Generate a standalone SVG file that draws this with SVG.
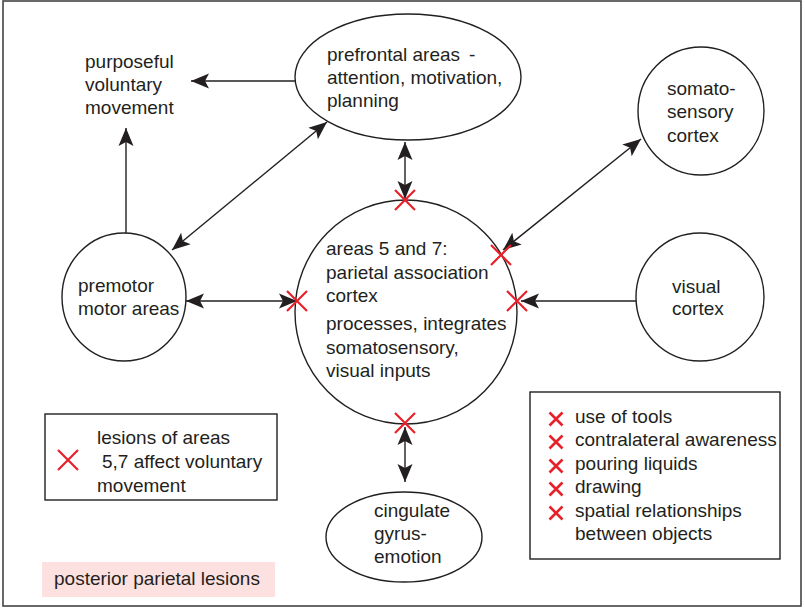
<svg xmlns="http://www.w3.org/2000/svg" width="805" height="608" viewBox="0 0 805 608">
<style>
text{font-family:"Liberation Sans",Arial,sans-serif;font-size:19px;fill:#231f20}
.node{fill:#fff;stroke:#231f20;stroke-width:1.4}
.box{fill:#fff;stroke:#231f20;stroke-width:1.4}
.conn line{stroke:#231f20;stroke-width:1.4;fill:none}
.x{stroke:#e8202a;stroke-width:2.2;fill:none}
.xs{stroke:#e8202a;stroke-width:2.6;fill:none}
</style>
<defs>
<marker id="ah" viewBox="-1 -9 21 18" markerUnits="userSpaceOnUse" markerWidth="21" markerHeight="18" refX="18" refY="0" orient="auto-start-reverse">
<path d="M0,-7.5 L18,0 L0,7.5 L4,0 z" fill="#231f20"/>
</marker>
<path id="xm" d="M-10,-10 L10,10 M-10,10 L10,-10"/>
<path id="xs" d="M-6.5,-6.5 L6.5,6.5 M-6.5,6.5 L6.5,-6.5"/>
</defs>
<rect x="3" y="1" width="798" height="605" fill="#fff" stroke="#444" stroke-width="1.6"/>

<g id="purposeful">
<text x="85" y="68">purposeful</text>
<text x="85" y="91">voluntary</text>
<text x="85" y="114">movement</text>
</g>
<g id="prefrontal">
<ellipse class="node" cx="408" cy="77" rx="113" ry="63"/>
<text x="327" y="61">prefrontal areas<tspan x="469">-</tspan></text>
<text x="327" y="84">attention, motivation,</text>
<text x="327" y="107">planning</text>
</g>
<g id="somatosensory">
<ellipse class="node" cx="701" cy="111" rx="63" ry="64"/>
<text x="667" y="95">somato-</text>
<text x="667" y="118">sensory</text>
<text x="667" y="142">cortex</text>
</g>
<g id="parietal">
<ellipse class="node" cx="406" cy="312" rx="111" ry="112"/>
<text x="326" y="255">areas 5 and 7:</text>
<text x="326" y="279">parietal association</text>
<text x="326" y="302">cortex</text>
<text x="326" y="330">processes, integrates</text>
<text x="326" y="354">somatosensory,</text>
<text x="326" y="377">visual inputs</text>
</g>
<g id="premotor">
<ellipse class="node" cx="124" cy="297" rx="62" ry="64"/>
<text x="78" y="292">premotor</text>
<text x="78" y="315">motor areas</text>
</g>
<g id="visual">
<ellipse class="node" cx="700" cy="297" rx="64" ry="64"/>
<text x="672" y="293">visual</text>
<text x="672" y="315">cortex</text>
</g>
<g id="cingulate">
<ellipse class="node" cx="404" cy="537" rx="78" ry="45"/>
<text x="374" y="517">cingulate</text>
<text x="374" y="540">gyrus-</text>
<text x="374" y="563">emotion</text>
</g>

<g id="connectors" class="conn">
<line x1="295" y1="81" x2="191" y2="81" marker-end="url(#ah)"/>
<line x1="126" y1="233" x2="126" y2="128" marker-end="url(#ah)"/>
<line x1="327" y1="122" x2="172" y2="250" marker-start="url(#ah)" marker-end="url(#ah)"/>
<line x1="405" y1="142" x2="405" y2="199" marker-start="url(#ah)" marker-end="url(#ah)"/>
<line x1="641" y1="139" x2="503" y2="250" marker-start="url(#ah)" marker-end="url(#ah)"/>
<line x1="186" y1="301" x2="297" y2="301" marker-start="url(#ah)" marker-end="url(#ah)"/>
<line x1="636" y1="301" x2="521" y2="301" marker-end="url(#ah)"/>
<line x1="405" y1="427" x2="405" y2="482" marker-start="url(#ah)" marker-end="url(#ah)"/>
</g>

<g id="lesion-marks" class="x">
<use href="#xm" x="405" y="200"/>
<use href="#xm" x="501" y="255"/>
<use href="#xm" x="297" y="301"/>
<use href="#xm" x="517" y="301"/>
<use href="#xm" x="405" y="423"/>
</g>

<g id="legend-left">
<rect class="box" x="45" y="414" width="232" height="86"/>
<use class="x" href="#xm" x="68" y="460"/>
<text x="97" y="444">lesions of areas</text>
<text x="102" y="468">5,7 affect voluntary</text>
<text x="97" y="492">movement</text>
</g>

<g id="legend-right">
<rect class="box" x="530" y="392" width="250" height="167"/>
<g class="xs">
<use href="#xs" x="556" y="419"/>
<use href="#xs" x="556" y="442"/>
<use href="#xs" x="556" y="466"/>
<use href="#xs" x="556" y="489"/>
<use href="#xs" x="556" y="513"/>
</g>
<text x="575" y="423">use of tools</text>
<text x="575" y="446">contralateral awareness</text>
<text x="575" y="470">pouring liquids</text>
<text x="575" y="493">drawing</text>
<text x="575" y="517">spatial relationships</text>
<text x="575" y="540">between objects</text>
</g>

<g id="posterior-label">
<rect x="42" y="562" width="233" height="35" fill="#fde1e1"/>
<text x="54" y="585">posterior parietal lesions</text>
</g>
</svg>
